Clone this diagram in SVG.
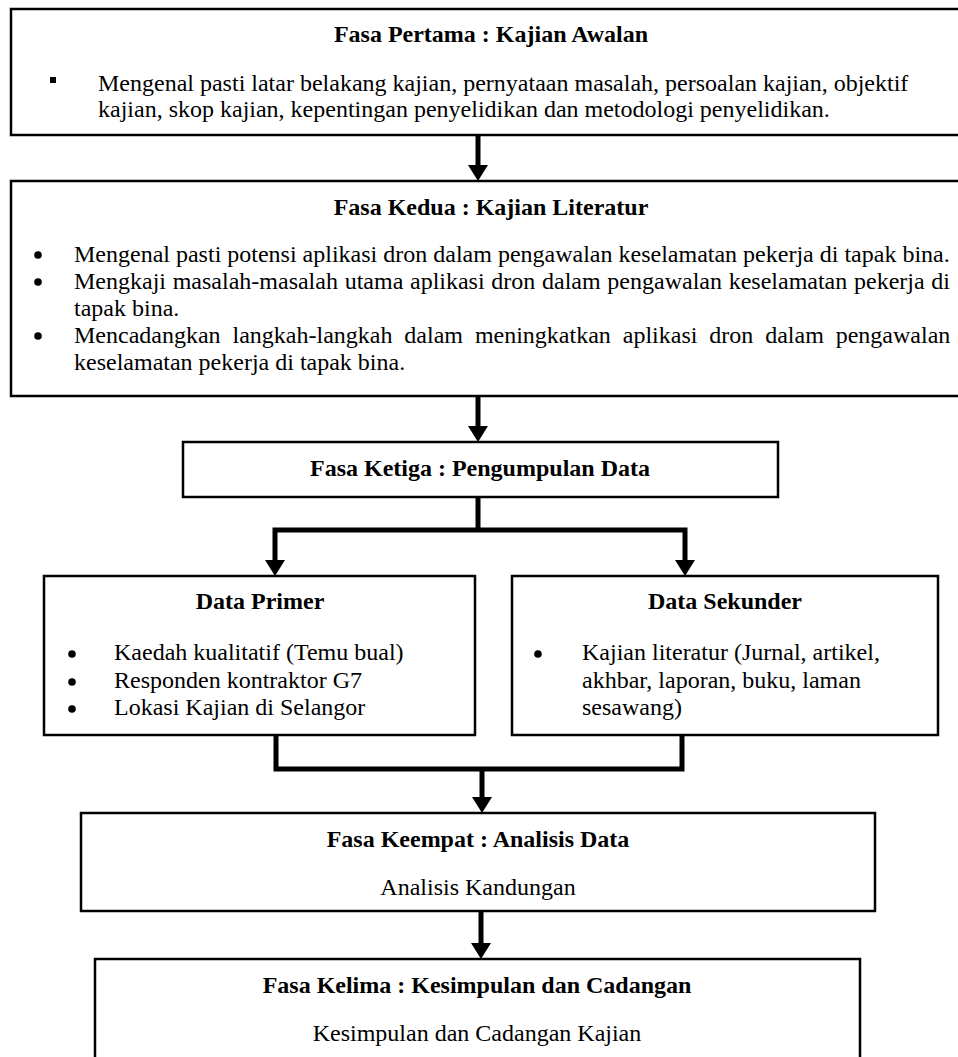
<svg xmlns="http://www.w3.org/2000/svg" width="958" height="1057" viewBox="0 0 958 1057">
<style>
.box{fill:#fff;stroke:#000;stroke-width:2.5}
.t{font-family:"Liberation Serif","Times New Roman",serif;font-size:24px;fill:#000}
.b{font-weight:bold}
.c{text-anchor:middle}
.dot{fill:#000}
.con{fill:none;stroke:#000;stroke-width:5;stroke-linejoin:miter;stroke-linecap:butt}
.head{fill:#000}
</style>
<rect width="958" height="1057" fill="#fff"/>
<g id="node-fasa1">
<rect class="box" x="11" y="9" width="958" height="126"/>
<text class="t b c" x="491" y="42">Fasa Pertama : Kajian Awalan</text>
<rect x="50" y="77" width="6" height="6" fill="#000"/>
<text class="t" x="98" y="91">Mengenal pasti latar belakang kajian, pernyataan masalah, persoalan kajian, objektif</text>
<text class="t" x="98" y="117">kajian, skop kajian, kepentingan penyelidikan dan metodologi penyelidikan.</text>
</g>
<g id="node-fasa2">
<rect class="box" x="11" y="181" width="958" height="215"/>
<text class="t b c" x="491" y="215">Fasa Kedua : Kajian Literatur</text>
<circle class="dot" cx="38" cy="255" r="3.8"/>
<circle class="dot" cx="38" cy="282" r="3.8"/>
<circle class="dot" cx="38" cy="336" r="3.8"/>
<text class="t" x="74" y="262">Mengenal pasti potensi aplikasi dron dalam pengawalan keselamatan pekerja di tapak bina.</text>
<text class="t" x="74" y="289" word-spacing="0.7">Mengkaji masalah-masalah utama aplikasi dron dalam pengawalan keselamatan pekerja di</text>
<text class="t" x="74" y="316">tapak bina.</text>
<text class="t" x="74" y="343" word-spacing="5.9">Mencadangkan langkah-langkah dalam meningkatkan aplikasi dron dalam pengawalan</text>
<text class="t" x="74" y="370">keselamatan pekerja di tapak bina.</text>
</g>
<g id="node-fasa3">
<rect class="box" x="183" y="442" width="595" height="55"/>
<text class="t b c" x="480" y="476">Fasa Ketiga : Pengumpulan Data</text>
</g>
<g id="node-primer">
<rect class="box" x="44" y="576" width="431" height="159"/>
<text class="t b c" x="260" y="609">Data Primer</text>
<circle class="dot" cx="72" cy="654" r="3.8"/>
<circle class="dot" cx="72" cy="682" r="3.8"/>
<circle class="dot" cx="72" cy="709" r="3.8"/>
<text class="t" x="114" y="660">Kaedah kualitatif (Temu bual)</text>
<text class="t" x="114" y="688">Responden kontraktor G7</text>
<text class="t" x="114" y="715">Lokasi Kajian di Selangor</text>
</g>
<g id="node-sekunder">
<rect class="box" x="512" y="576" width="426" height="159"/>
<text class="t b c" x="725" y="609">Data Sekunder</text>
<circle class="dot" cx="538" cy="654" r="3.8"/>
<text class="t" x="582" y="660">Kajian literatur (Jurnal, artikel,</text>
<text class="t" x="582" y="688">akhbar, laporan, buku, laman</text>
<text class="t" x="582" y="715">sesawang)</text>
</g>
<g id="node-fasa4">
<rect class="box" x="81" y="813" width="794" height="98"/>
<text class="t b c" x="478" y="847">Fasa Keempat : Analisis Data</text>
<text class="t c" x="478" y="895">Analisis Kandungan</text>
</g>
<g id="node-fasa5">
<rect class="box" x="95" y="959" width="765" height="120"/>
<text class="t b c" x="477" y="993">Fasa Kelima : Kesimpulan dan Cadangan</text>
<text class="t c" x="477" y="1041">Kesimpulan dan Cadangan Kajian</text>
</g>
<g id="connectors">
<line class="con" x1="478" y1="136" x2="478" y2="166"/>
<polygon class="head" points="468,165 488,165 478,181"/>
<line class="con" x1="478" y1="397" x2="478" y2="427"/>
<polygon class="head" points="468,426 488,426 478,442"/>
<path class="con" d="M478,498 V530 M275,561 V530 H685 V561"/>
<polygon class="head" points="265,560 285,560 275,576"/>
<polygon class="head" points="675,560 695,560 685,576"/>
<path class="con" d="M276,736 V769 H682 V736 M482,769 V798"/>
<polygon class="head" points="472,797 492,797 482,813"/>
<line class="con" x1="481" y1="912" x2="481" y2="944"/>
<polygon class="head" points="471,943 491,943 481,959"/>
</g>
</svg>
